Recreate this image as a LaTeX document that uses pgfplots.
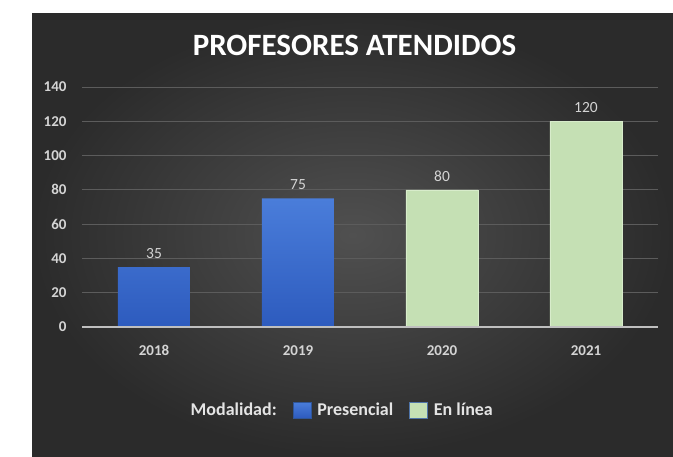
\documentclass[border=0pt]{standalone}
\usepackage{fontspec}
\setmainfont{Carlito}
\usepackage{pgfplots}
\pgfplotsset{compat=1.18}
\definecolor{bgin}{HTML}{505050}
\definecolor{bgout}{HTML}{2B2B2B}
\definecolor{gridc}{HTML}{5C5C5C}
\definecolor{ticktext}{HTML}{D4D4D4}
\definecolor{legtext}{HTML}{E4E4E4}
\definecolor{bluetop}{HTML}{4A7DDA}
\definecolor{bluebot}{HTML}{2D5BBE}
\definecolor{blueedge}{HTML}{2F5597}
\definecolor{greenbar}{HTML}{C5E0B4}
\definecolor{greenedge}{HTML}{D8ECCB}
\definecolor{greenlegedge}{HTML}{4F74A8}
\definecolor{baseline}{HTML}{BFBFBF}
\begin{document}
\begin{tikzpicture}[x=1pt,y=1pt]
\useasboundingbox[fill=white] (0,0) rectangle (673,456);
\shade[inner color=bgin, outer color=bgout] (32,0) rectangle (673,442);
\begin{axis}[
  at={(82pt,129pt)}, anchor=south west,
  scale only axis, width=576pt, height=240pt,
  xmin=-0.5, xmax=3.5, ymin=0, ymax=140,
  xtick={0,1,2,3}, xticklabels={2018,2019,2020,2021},
  ytick={0,20,...,140},
  ymajorgrids, major grid style={color=gridc, line width=0.8pt},
  axis line style={draw=none},
  major tick length=0pt,
  /pgf/number format/assume math mode=true,
  tick label style={font=\fontsize{15}{17}\selectfont\bfseries, text=ticktext},
  yticklabel style={xshift=-12pt},
  xticklabel style={yshift=-15pt},
  bar width=0.5,
  nodes near coords,
  every node near coord/.append style={font=\fontsize{15.5}{17}\selectfont, text=ticktext, yshift=5pt},
  legend columns=3,
  legend style={at={(0.451,-0.346)}, anchor=center, draw=none, fill=none,
    text=legtext, font=\fontsize{18}{20}\selectfont\bfseries,
    /tikz/every even column/.append style={column sep=14pt}},
]
\addlegendimage{empty legend}
\addlegendentry{Modalidad:}
\addlegendimage{legend image code/.code={\fill[top color=bluetop, bottom color=bluebot, draw=blueedge, line width=0.8pt] (0pt,-8pt) rectangle (18pt,8pt); \path (22pt,0pt);}}
\addlegendentry{Presencial}
\addlegendimage{legend image code/.code={\filldraw[fill=greenbar, draw=greenlegedge, line width=0.8pt] (0pt,-8pt) rectangle (18pt,8pt); \path (22pt,0pt);}}
\addlegendentry{En línea}
\addplot[ybar, bar shift=0pt, draw=none, top color=bluetop, bottom color=bluebot, forget plot]
  coordinates {(0,35) (1,75)};
\addplot[ybar, bar shift=0pt, fill=greenbar, draw=greenedge, line width=0.6pt, forget plot]
  coordinates {(2,80) (3,120)};
\draw[color=baseline, line width=1.3pt] (axis cs:-0.5,0) -- (axis cs:3.5,0);
\end{axis}
\node[text=white, font=\fontsize{31}{35}\selectfont\bfseries] at (354.5,411) {PROFESORES ATENDIDOS};
\end{tikzpicture}
\end{document}
